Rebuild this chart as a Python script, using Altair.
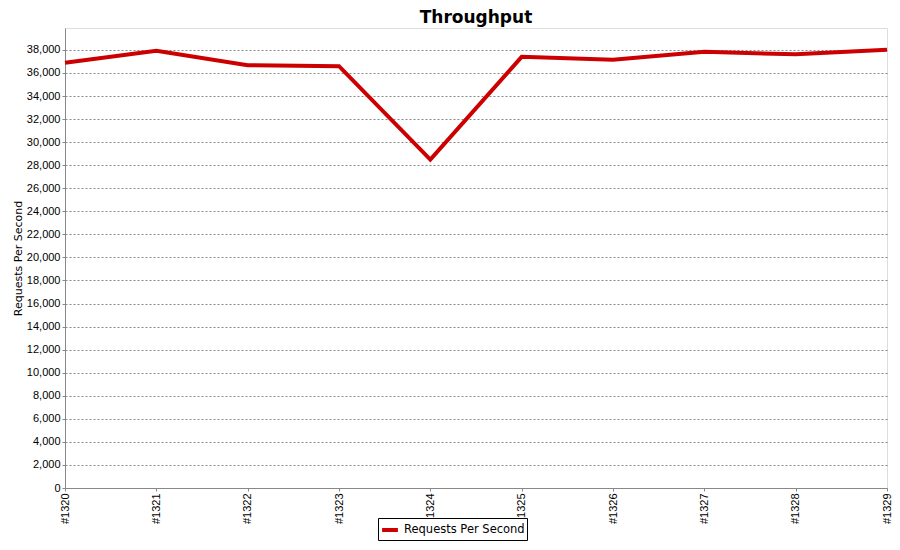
import altair as alt
import pandas as pd

builds = ["#1320", "#1321", "#1322", "#1323", "#1324", "#1325", "#1326", "#1327", "#1328", "#1329"]
rps = [36880, 37920, 36670, 36590, 28480, 37400, 37140, 37830, 37620, 38010]
series = ["Requests Per Second"] * len(builds)

df = pd.DataFrame({"build": builds, "rps": rps, "series": series})

FONT = "DejaVu Sans"
TICKFONT = "Liberation Sans"

chart = alt.Chart(df).mark_line(strokeWidth=4).encode(
    x=alt.X("build:O", sort=builds,
            scale=alt.Scale(type="point", padding=0),
            axis=alt.Axis(title=None, labelAngle=270, labelFontSize=11, labelFont=TICKFONT,
                          labelColor="#000000", domainColor="#888888", tickColor="#888888",
                          tickSize=3, labelPadding=2, grid=False)),
    y=alt.Y("rps:Q", scale=alt.Scale(domain=[0, 39900], nice=False, zero=True),
            axis=alt.Axis(title="Requests Per Second", values=list(range(0, 40000, 2000)),
                          format=",d", labelFontSize=11, labelFont=TICKFONT, labelColor="#000000",
                          titleFont=FONT, titleFontSize=11, titleFontWeight="normal",
                          titleColor="#000000", titlePadding=3,
                          domainColor="#888888", tickColor="#888888", tickSize=3, labelPadding=2,
                          grid=True, gridColor="#888888", gridDash=[2, 2], gridWidth=1)),
    stroke=alt.Stroke("series:N", scale=alt.Scale(range=["#CC0000"]),
                      legend=alt.Legend(title=None, orient="none", legendX=313, legendY=490,
                                        symbolType="stroke", symbolStrokeWidth=4, symbolSize=250,
                                        labelFont=FONT, labelFontSize=11.5, labelColor="#000000",
                                        strokeColor="#000000", padding=2, fillColor="white")),
).properties(
    width=822, height=460,
    title=alt.TitleParams("Throughput", font=FONT, fontSize=17, fontWeight="bold",
                          anchor="middle", color="#000000", offset=1),
    padding={"left": 57, "top": 20, "right": 5, "bottom": 54},
    autosize=alt.AutoSizeParams(type="none"),
).configure_view(stroke=None).configure(background="white")

chart.save("out.html", embed_options={"renderer": "svg", "actions": False})
